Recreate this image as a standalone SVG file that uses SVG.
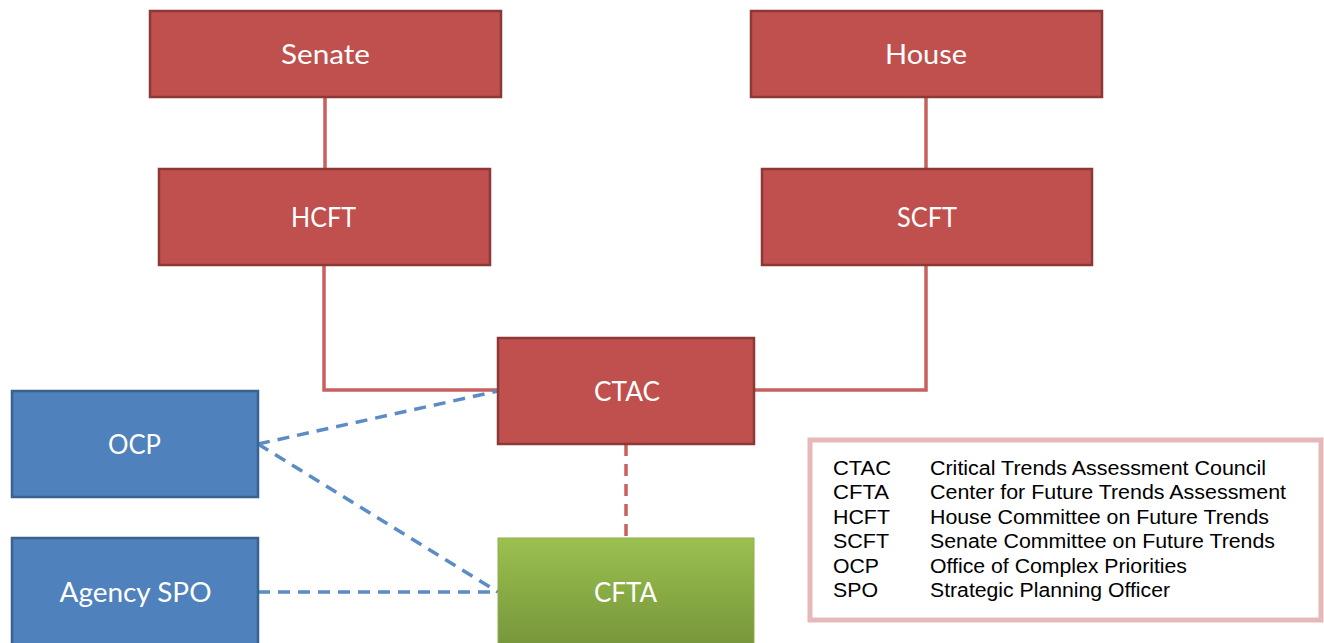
<svg xmlns="http://www.w3.org/2000/svg" width="1324" height="643" viewBox="0 0 1324 643">
<defs>
<linearGradient id="gGreen" x1="0" y1="0" x2="0" y2="1">
<stop offset="0" stop-color="#9BC04F"/>
<stop offset="1" stop-color="#76953A"/>
</linearGradient>
<style>
.red{fill:#C0504D;stroke:#8C3836;stroke-width:2.5}
.blue{fill:#4F81BD;stroke:#3A6190;stroke-width:2.5}
.green{fill:url(#gGreen);stroke:#8CB04A;stroke-width:1}
.lbl{font-family:Lato,"Open Sans",sans-serif;font-size:26px;fill:#FFFFFF;text-anchor:middle;dominant-baseline:central}
.solid{fill:none;stroke:#C9605D;stroke-width:3.5}
.dashR{fill:none;stroke:#C9605D;stroke-width:3.5;stroke-dasharray:12 8}
.dashB{fill:none;stroke:#5B8CC6;stroke-width:3.5;stroke-dasharray:12 8}
.leg{font-family:"Liberation Sans",Arial,sans-serif;font-size:19.5px;fill:#000}
</style>
</defs>
<rect width="1324" height="643" fill="#FFFFFF"/>
<g id="connectors">
<path class="solid" d="M325 97 V169"/>
<path class="solid" d="M926 97 V169"/>
<path class="solid" d="M324 265 V390 H498"/>
<path class="solid" d="M926 265 V390 H754"/>
<path class="dashR" d="M626 444 V538"/>
<path class="dashB" d="M258 444 L498 391"/>
<path class="dashB" d="M258 444 L498 592"/>
<path class="dashB" d="M258 592 H498"/>
</g>
<g id="node-senate"><rect class="red" x="150" y="11" width="351" height="86"/><text class="lbl" x="325.5" y="54" textLength="89" lengthAdjust="spacingAndGlyphs">Senate</text></g>
<g id="node-house"><rect class="red" x="751" y="11" width="351" height="86"/><text class="lbl" x="926" y="54" textLength="82" lengthAdjust="spacingAndGlyphs">House</text></g>
<g id="node-hcft"><rect class="red" x="159" y="169" width="331" height="96"/><text class="lbl" x="323.5" y="217" textLength="65" lengthAdjust="spacingAndGlyphs">HCFT</text></g>
<g id="node-scft"><rect class="red" x="762" y="169" width="330" height="96"/><text class="lbl" x="927" y="217" textLength="60" lengthAdjust="spacingAndGlyphs">SCFT</text></g>
<g id="node-ctac"><rect class="red" x="498" y="338" width="256" height="106"/><text class="lbl" x="627" y="391" textLength="66" lengthAdjust="spacingAndGlyphs">CTAC</text></g>
<g id="node-ocp"><rect class="blue" x="12" y="391" width="246" height="106"/><text class="lbl" x="134.5" y="444" textLength="53" lengthAdjust="spacingAndGlyphs">OCP</text></g>
<g id="node-agencyspo"><rect class="blue" x="12" y="538" width="246" height="110"/><text class="lbl" x="135.5" y="592" textLength="152" lengthAdjust="spacingAndGlyphs">Agency SPO</text></g>
<g id="node-cfta"><rect class="green" x="498" y="538" width="256" height="110"/><text class="lbl" x="625.5" y="592" textLength="63" lengthAdjust="spacingAndGlyphs">CFTA</text></g>
<g id="legend">
<rect x="810" y="440" width="511" height="180" fill="#FFFFFF" stroke="#E6B9B8" stroke-width="5"/>
<text class="leg" x="833" y="475" textLength="58" lengthAdjust="spacingAndGlyphs">CTAC</text><text class="leg" x="930" y="475" textLength="336" lengthAdjust="spacingAndGlyphs">Critical Trends Assessment Council</text>
<text class="leg" x="833" y="499" textLength="56" lengthAdjust="spacingAndGlyphs">CFTA</text><text class="leg" x="930" y="499" textLength="356" lengthAdjust="spacingAndGlyphs">Center for Future Trends Assessment</text>
<text class="leg" x="833" y="524" textLength="57" lengthAdjust="spacingAndGlyphs">HCFT</text><text class="leg" x="930" y="524" textLength="339" lengthAdjust="spacingAndGlyphs">House Committee on Future Trends</text>
<text class="leg" x="833" y="548" textLength="56" lengthAdjust="spacingAndGlyphs">SCFT</text><text class="leg" x="930" y="548" textLength="345" lengthAdjust="spacingAndGlyphs">Senate Committee on Future Trends</text>
<text class="leg" x="833" y="573" textLength="46" lengthAdjust="spacingAndGlyphs">OCP</text><text class="leg" x="930" y="573" textLength="257" lengthAdjust="spacingAndGlyphs">Office of Complex Priorities</text>
<text class="leg" x="833" y="597" textLength="45" lengthAdjust="spacingAndGlyphs">SPO</text><text class="leg" x="930" y="597" textLength="240" lengthAdjust="spacingAndGlyphs">Strategic Planning Officer</text>
</g>
</svg>
